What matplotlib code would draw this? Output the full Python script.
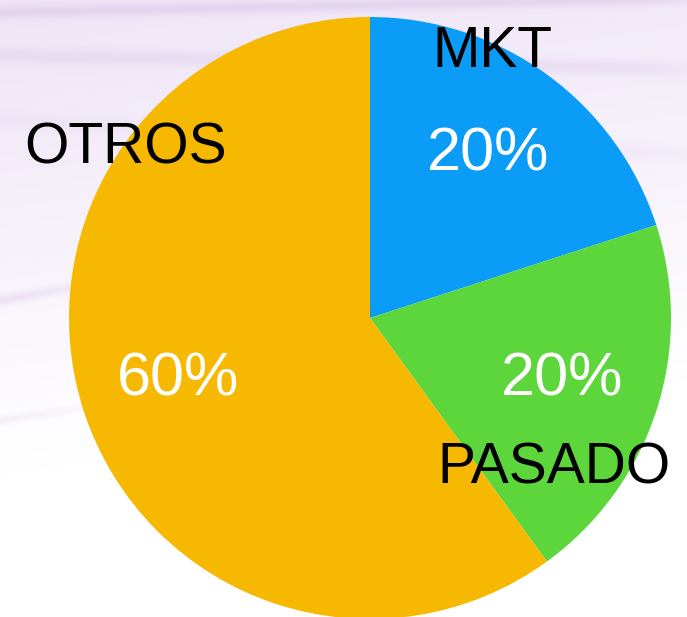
import numpy as np
import matplotlib
matplotlib.use("Agg")
import matplotlib.pyplot as plt

# Share of each category
categories = ["MKT", "PASADO", "OTROS"]
shares = [20, 20, 60]
colors = ["#0A9CF7", "#5DD63C", "#F6B800"]

W, H = 687, 617
fig = plt.figure(figsize=(W / 100, H / 100), dpi=100)
ax = fig.add_axes([0, 0, 1, 1])

# Soft lavender backdrop fading to white towards the bottom, with faint streaks
# (row 0 of the image is the top edge of the figure)
yy, xx = np.mgrid[0:H, 0:W].astype(float)
t = np.clip((yy / H) * 1.3 + (xx / W) * 0.2, 0, 1)
base_top = np.array([0.935, 0.895, 0.965])
white = np.array([1.0, 1.0, 1.0])
img = base_top[None, None, :] * (1 - t[..., None]) + white[None, None, :] * t[..., None]


def streak(y0, slope, width, strength, x_end):
    d = yy - (y0 + slope * xx)
    fall = np.exp(-(d / width) ** 2) * np.clip((x_end - xx) / 120, 0, 1)
    return fall[..., None] * strength


purple = np.array([0.80, 0.70, 0.88])
for y0, slope, w, s, xe in [(12, -0.02, 6, 0.35, 760), (55, 0.02, 8, 0.22, 760),
                            (300, -0.18, 5, 0.30, 140), (420, -0.15, 4, 0.20, 120),
                            (120, 0.05, 10, 0.12, 760)]:
    m = streak(y0, slope, w, s, xe)
    img = img * (1 - m) + purple[None, None, :] * m
img = np.clip(img, 0, 1)
ax.imshow(img, extent=(0, W, 0, H), origin="upper", zorder=0, aspect="auto")

center = (370, H - 318)
radius = 301

wedges, _, autotexts = ax.pie(
    shares, colors=colors, startangle=90, counterclock=False,
    center=center, radius=radius, autopct="%d%%", pctdistance=0.67,
    wedgeprops=dict(linewidth=0), frame=True,
    textprops=dict(color="white", fontsize=44, family="Liberation Sans"),
)
ax.set_xlim(0, W)
ax.set_ylim(0, H)
ax.axis("off")
for w in wedges:
    w.set_zorder(1)

# Category names placed around the pie
label_xy = {"MKT": (492, 52), "PASADO": (554, 469), "OTROS": (126, 148)}
for name in categories:
    x, y = label_xy[name]
    ax.text(x, H - y, name, ha="center", va="center", fontsize=41,
            color="black", family="Liberation Sans", zorder=3)

fig.savefig("out.png", dpi=100)
